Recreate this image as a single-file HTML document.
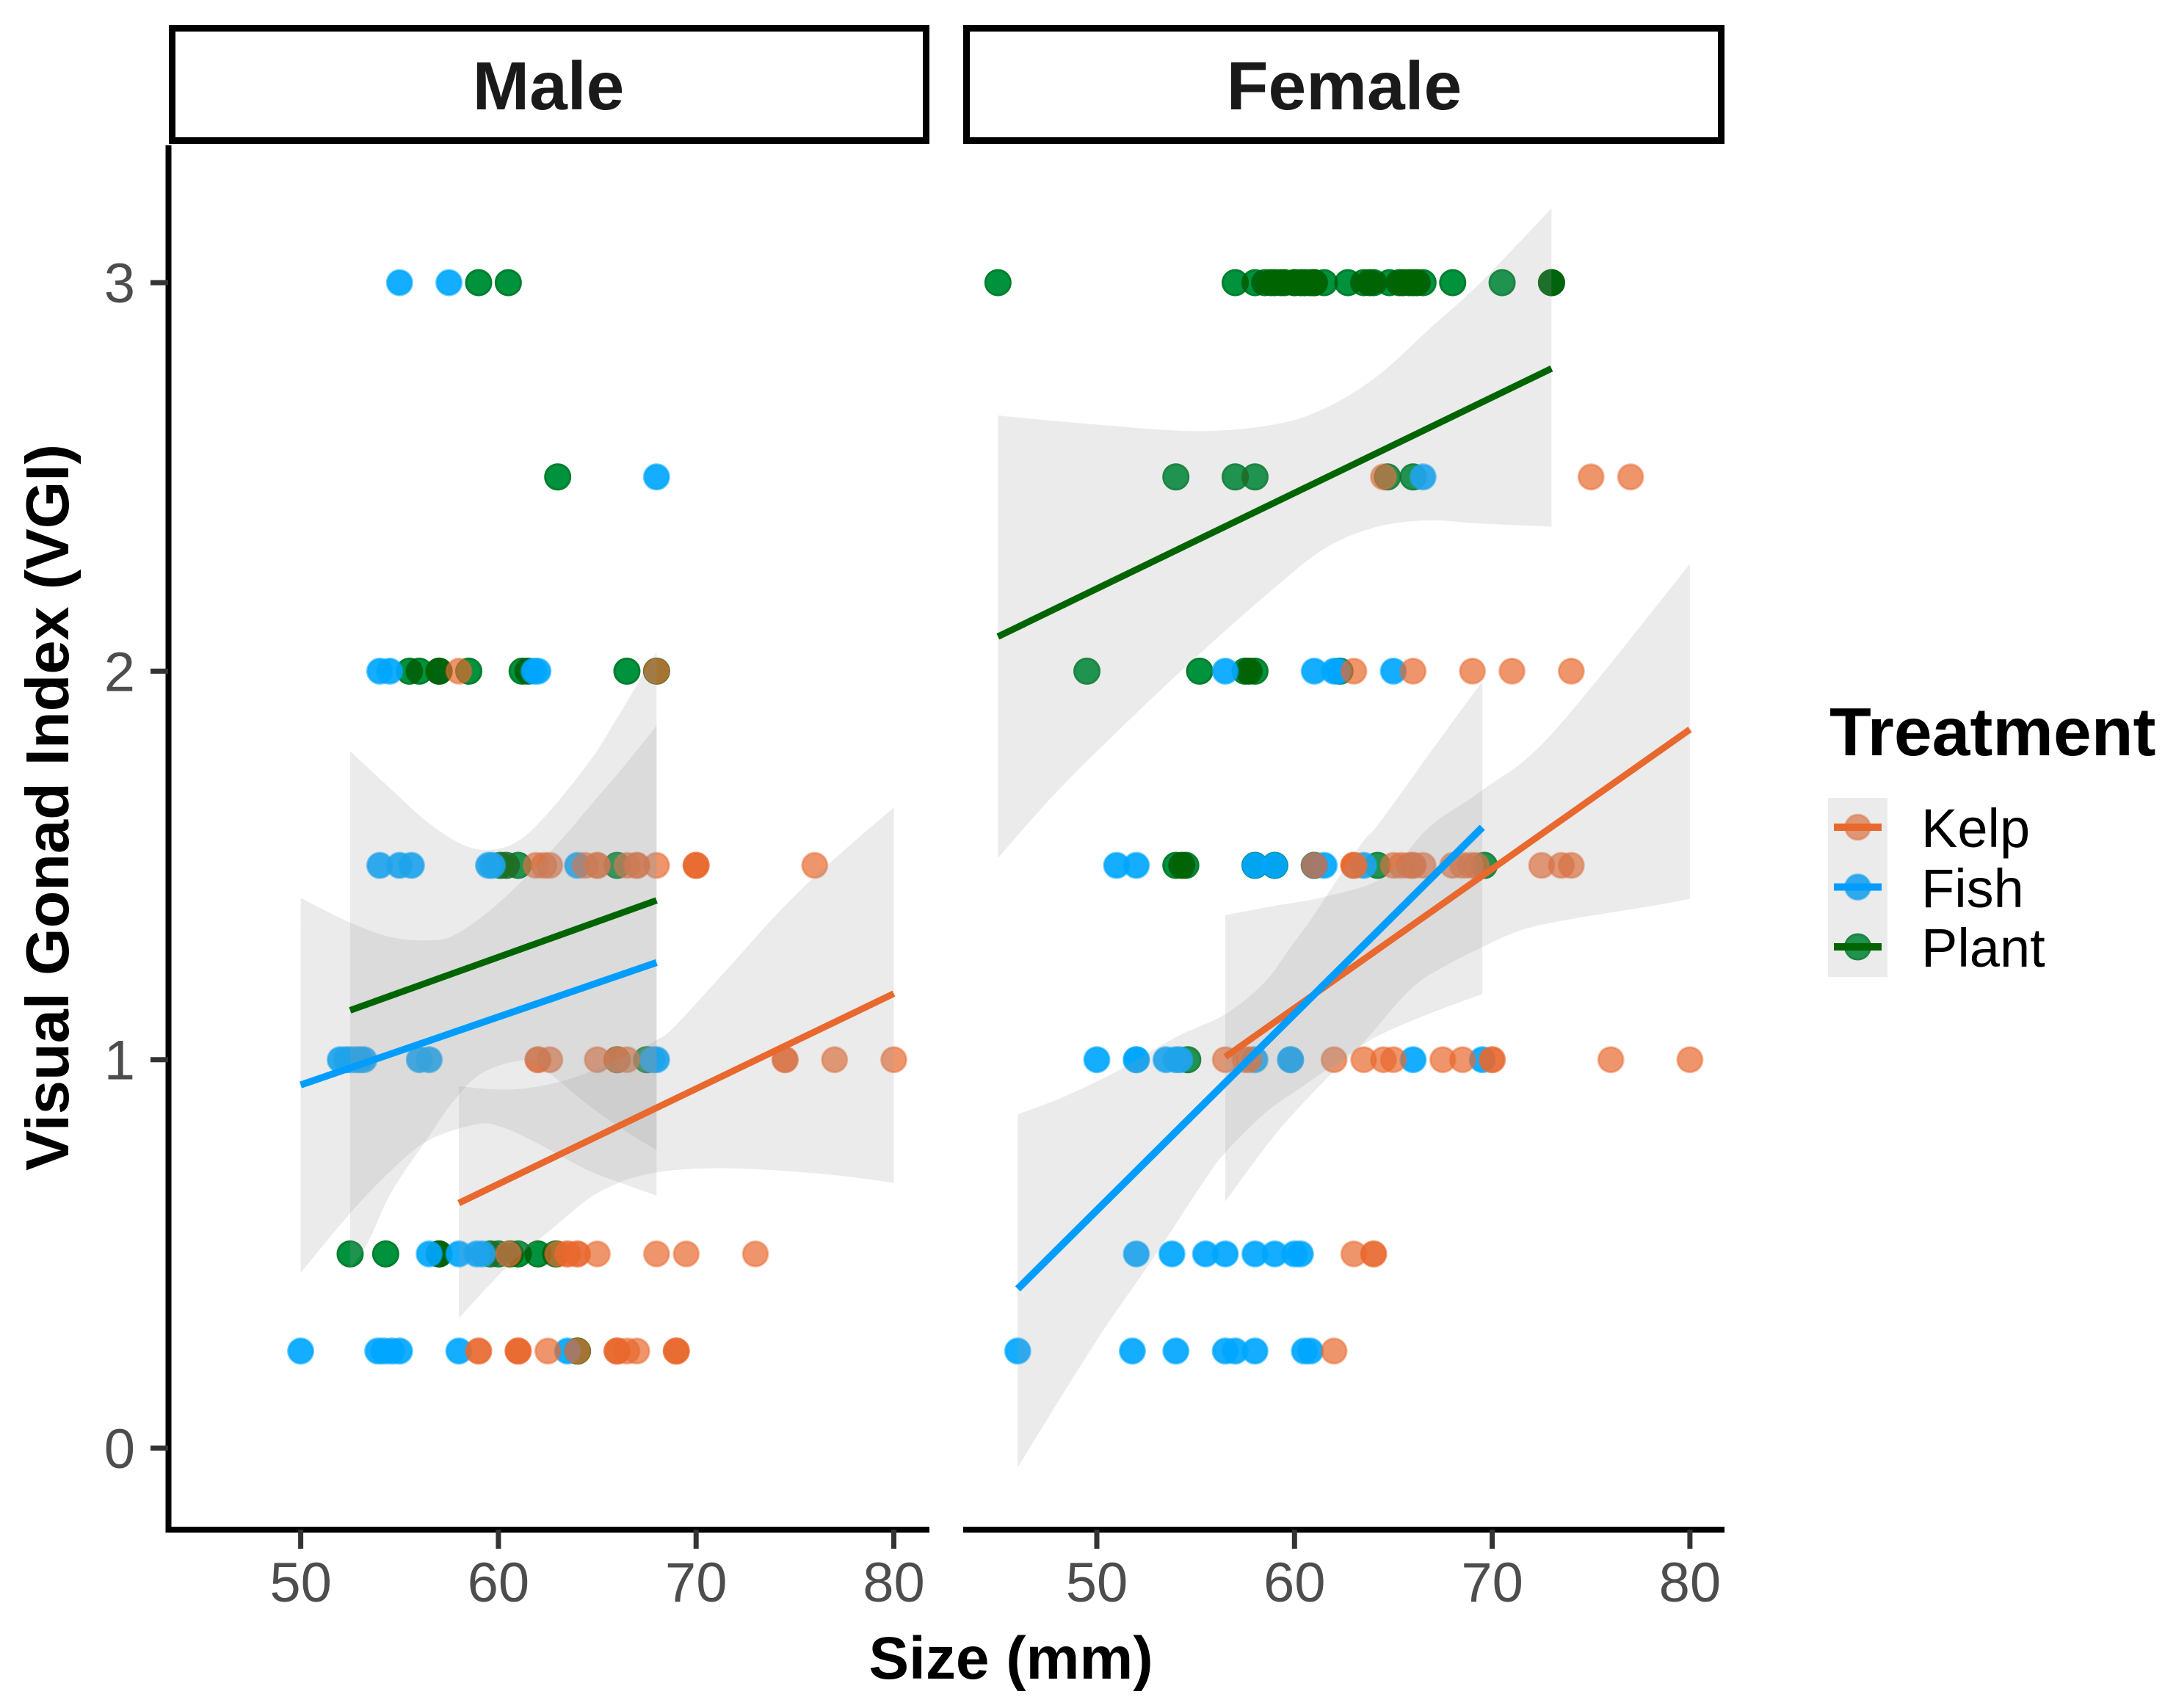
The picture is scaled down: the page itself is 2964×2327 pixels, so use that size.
<!DOCTYPE html>
<html lang="en">
<head>
<meta charset="utf-8">
<title>Visual Gonad Index by Size</title>
<style>
html,body{margin:0;padding:0;background:#fff;}
svg{display:block;font-family:"Liberation Sans",Arial,sans-serif;}
</style>
</head>
<body>
<svg id="chart" xmlns="http://www.w3.org/2000/svg" width="2964" height="2327" viewBox="0 0 2964 2327">
  <rect width="2964" height="2327" fill="#ffffff"/>
  <g id="points-layer"></g>
  <g id="bands-layer"></g>
  <g id="lines-layer"></g>
  <g id="axes-layer"></g>

  <rect x="234.5" y="38.5" width="1027" height="153" fill="#ffffff" stroke="#000000" stroke-width="9"/>
  <text x="747" y="149" text-anchor="middle" font-size="93" font-weight="700" fill="#1a1a1a">Male</text>
  <rect x="1316.5" y="38.5" width="1028" height="153" fill="#ffffff" stroke="#000000" stroke-width="9"/>
  <text x="1831" y="149" text-anchor="middle" font-size="93" font-weight="700" fill="#1a1a1a">Female</text>

  <text x="1377" y="2287" text-anchor="middle" font-size="82" font-weight="700" fill="#000000">Size (mm)</text>
  <text transform="translate(93,1100) rotate(-90)" text-anchor="middle" font-size="83" font-weight="700" fill="#000000">Visual Gonad Index (VGI)</text>

  <g>
    <text x="2492" y="1029" font-size="93" font-weight="700" fill="#000000">Treatment</text>
    <g id="legend-keys"></g>
    <text x="2617" y="1154" font-size="74" fill="#000000">Kelp</text>
    <text x="2617" y="1236" font-size="74" fill="#000000">Fish</text>
    <text x="2617" y="1317" font-size="74" fill="#000000">Plant</text>
  </g>
</svg>

<script>
// ---- axis tick labels ----
const xTickLabels = [50, 60, 70, 80];
const yTickLabels = [0, 1, 2, 3];

// ---- VGI levels; every point array below is listed per level, in this order ----
const vgiLevels = [3, 2.5, 2, 1.5, 1, 0.5, 0.25];

// ---- Male points: size (mm) per VGI level ----
const maleKelpSizes = [
  [], [], [58, 68],
  [61.9, 62.3, 62.6, 64.4, 65, 65, 66.5, 67, 67, 68, 70, 70, 70, 76],
  [62, 62, 62.6, 65, 66, 66, 66.5, 74.5, 74.5, 77, 80],
  [60.5, 63, 63.5, 63.5, 64, 64, 65, 68, 69.5, 73],
  [59, 59, 61, 61, 61, 62.5, 64, 66, 66, 66, 66.5, 67, 69, 69, 69]
];
const maleFishSizes = [
  [55, 57.5], [68], [54, 54.5, 61.8, 62],
  [54, 55, 55.6, 59.5, 59.7, 64],
  [52, 52.3, 52.5, 52.8, 53, 53.2, 56, 56.5, 67.8, 68],
  [56.5, 58, 58.9, 59.2],
  [50, 53.9, 54.2, 54.6, 55, 58, 63.5]
];
const malePlantSizes = [
  [59, 60.5], [63],
  [55.5, 56, 57, 57, 58.5, 61.2, 61.5, 66.5, 68],
  [60.1, 60.4, 61, 66],
  [66, 67.5],
  [52.5, 54.3, 57, 57, 59.6, 60, 60.6, 61, 62, 62.9],
  [64]
];

// ---- Female points: size (mm) per VGI level ----
const femaleKelpSizes = [
  [], [64.5, 75, 77], [63, 66, 69, 71, 74],
  [61, 63, 63, 63, 65, 65.4, 65.8, 66, 66, 66.5, 68, 68.5, 68.9, 69.2, 72.5, 73.5, 74],
  [56.5, 57.5, 57.7, 62, 63.5, 64.5, 65, 67.5, 68.5, 70, 70, 76, 80],
  [63, 64, 64],
  [62]
];
const femaleFishSizes = [
  [], [66.5], [56.5, 61, 62, 62.2, 65],
  [51, 52, 58, 59, 61, 61.5, 63.5],
  [50, 52, 52, 53.5, 54, 54.2, 58, 59.8, 59.8, 66, 69.5],
  [52, 53.8, 55.5, 56.5, 58, 59, 60, 60.3],
  [46, 51.8, 54, 56.5, 57, 58, 60.5, 60.8]
];
const femalePlantSizes = [
  [45, 57, 58, 58.5, 58.8, 59, 59.3, 59.5, 60, 60, 60.3, 60.5, 60.8, 61, 61, 61.5, 62.7, 63.5, 63.8, 64, 64.8, 65.3, 65.5, 65.8, 66, 66.2, 66.5, 68, 70.5, 73, 73],
  [54, 57, 58, 64.7, 66],
  [49.5, 55.2, 57.5, 57.7, 58, 62.3],
  [54, 54.3, 54.5, 58, 59, 61, 64.2, 69.6],
  [54.6], [], []
];

// ---- Fitted lines: [start, end] ----
const maleKelpLineSize = [58, 80];
const maleKelpLineVgi = [0.631, 1.17];
const maleFishLineSize = [50, 68];
const maleFishLineVgi = [0.935, 1.25];
const malePlantLineSize = [52.5, 68];
const malePlantLineVgi = [1.127, 1.41];
const femaleKelpLineSize = [56.5, 80];
const femaleKelpLineVgi = [1.007, 1.85];
const femaleFishLineSize = [46, 69.5];
const femaleFishLineVgi = [0.41, 1.598];
const femalePlantLineSize = [45, 73];
const femalePlantLineVgi = [2.089, 2.779];

// ---- Confidence bands ----
const maleKelpUpperSize = [58, 60.2, 62, 63.9, 66.2, 68, 69, 71.7, 74, 76.4, 80];
const maleKelpUpperVgi = [0.931, 0.923, 0.931, 0.955, 1.005, 1.05, 1.09, 1.24, 1.37, 1.49, 1.649];
const maleKelpLowerSize = [58, 60.5, 62.6, 64.5, 65.7, 67, 69, 72, 76.4, 80];
const maleKelpLowerVgi = [0.335, 0.47, 0.56, 0.64, 0.674, 0.699, 0.716, 0.72, 0.706, 0.683];

const maleFishUpperSize = [50, 52.5, 54.6, 56.45, 57.7, 59.55, 61.4, 63.25, 64.5, 66.35, 68];
const maleFishUpperVgi = [1.416, 1.353, 1.315, 1.307, 1.319, 1.383, 1.47, 1.57, 1.645, 1.755, 1.86];
const maleFishLowerSize = [50, 52.5, 54.6, 56.45, 58.9, 60.2, 62, 64.5, 66.35, 68];
const maleFishLowerVgi = [0.451, 0.6045, 0.716, 0.792, 0.834, 0.826, 0.784, 0.716, 0.68, 0.65];

const malePlantUpperSize = [52.5, 54.6, 56.45, 58.3, 59.8, 61.15, 62.6, 64.5, 65.6, 68];
const malePlantUpperVgi = [1.794, 1.695, 1.61, 1.551, 1.541, 1.568, 1.64, 1.76, 1.845, 2.05];
const malePlantLowerSize = [52.5, 53.4, 54.6, 56.45, 57.6, 59, 60.8, 62, 64.5, 66.4, 68];
const malePlantLowerVgi = [0.461, 0.53, 0.66, 0.8, 0.885, 0.96, 0.995, 0.986, 0.885, 0.817, 0.767];

const femaleKelpUpperSize = [56.5, 59, 61.6, 64.5, 66.8, 69.5, 73, 80];
const femaleKelpUpperVgi = [1.372, 1.396, 1.42, 1.47, 1.598, 1.694, 1.838, 2.276];
const femaleKelpLowerSize = [56.5, 59.1, 61.6, 63.5, 65.9, 67.8, 69.5, 71.5, 74, 78.1, 80];
const femaleKelpLowerVgi = [0.635, 0.812, 0.95, 1.045, 1.183, 1.246, 1.29, 1.334, 1.362, 1.396, 1.414];

const femaleFishUpperSize = [46, 48.4, 51, 54, 56.5, 58.5, 59.8, 60.9, 63.3, 64.3, 67, 69.5];
const femaleFishUpperVgi = [0.859, 0.906, 0.97, 1.058, 1.117, 1.2, 1.29, 1.366, 1.55, 1.61, 1.8, 1.974];
const femaleFishLowerSize = [46, 49.9, 53, 55.4, 56.5, 58.5, 60.4, 62.2, 64.1, 66.6, 69.5];
const femaleFishLowerVgi = [-0.049, 0.27, 0.5, 0.686, 0.761, 0.862, 0.931, 0.994, 1.058, 1.114, 1.169];

const femalePlantUpperSize = [45, 49.9, 55.1, 59, 61.6, 64.2, 66.8, 69.4, 73];
const femalePlantUpperVgi = [2.658, 2.635, 2.618, 2.635, 2.678, 2.76, 2.88, 3.0, 3.191];
const femalePlantLowerSize = [45, 47.8, 50.9, 55.1, 59, 61.6, 64.2, 66.8, 69.4, 73];
const femalePlantLowerVgi = [1.519, 1.68, 1.838, 2.04, 2.215, 2.318, 2.372, 2.388, 2.38, 2.372];

// ---- Axis functions ----
const SVG_NS = 'http://www.w3.org/2000/svg';
function xMale(v) { return 409.6 + (v - 50) * 26.93; }
function xFemale(v) { return 1494 + (v - 50) * 26.93; }
function yScale(v) { return 1973 - v * 529.3; }

const KELP = '#e8682e', FISH = '#009dff', PLANT = '#006400';
const pointLayer = document.getElementById('points-layer');
const bandLayer = document.getElementById('bands-layer');
const lineLayer = document.getElementById('lines-layer');
const axesLayer = document.getElementById('axes-layer');
const keysLayer = document.getElementById('legend-keys');

function make(tag, attrs) {
  const el = document.createElementNS(SVG_NS, tag);
  for (const k in attrs) el.setAttribute(k, attrs[k]);
  return el;
}

function stylePoint(el, kind) {
  if (kind === 'kelp') {
    el.setAttribute('fill', '#e8682e');
    el.setAttribute('fill-opacity', '0.7');
    el.setAttribute('stroke', '#e8682e');
    el.setAttribute('stroke-opacity', '0.45');
  } else if (kind === 'fish') {
    el.setAttribute('fill', '#00a6ff');
    el.setAttribute('fill-opacity', '0.92');
    el.setAttribute('stroke', '#00a6ff');
    el.setAttribute('stroke-opacity', '0.6');
  } else {
    el.setAttribute('fill', '#00923c');
    el.setAttribute('stroke', '#007f2e');
    el.style.mixBlendMode = 'multiply';
  }
  el.setAttribute('stroke-width', '3');
}

function drawPoints(rows, kind, xs) {
  rows.forEach(function (sizes, i) {
    sizes.forEach(function (s) {
      const c = make('circle', { cx: xs(s), cy: yScale(vgiLevels[i]), r: 17 });
      
      
      stylePoint(c, kind);
      pointLayer.appendChild(c);
    });
  });
}

function spline(p) {
  let d = '';
  for (let i = 0; i < p.length - 1; i++) {
    const p0 = p[Math.max(i - 1, 0)], p1 = p[i], p2 = p[i + 1], p3 = p[Math.min(i + 2, p.length - 1)];
    d += ' C' + (p1[0] + (p2[0] - p0[0]) / 6) + ',' + (p1[1] + (p2[1] - p0[1]) / 6) + ' ' +
      (p2[0] - (p3[0] - p1[0]) / 6) + ',' + (p2[1] - (p3[1] - p1[1]) / 6) + ' ' + p2[0] + ',' + p2[1];
  }
  return d;
}

function drawBand(upX, upY, loX, loY, xs) {
  const up = upX.map(function (s, i) { return [xs(s), yScale(upY[i])]; });
  const lo = loX.map(function (s, i) { return [xs(s), yScale(loY[i])]; }).reverse();
  const d = 'M' + up[0][0] + ',' + up[0][1] + spline(up) + ' L' + lo[0][0] + ',' + lo[0][1] + spline(lo) + ' Z';
  const b = make('path', { d: d, fill: '#999999', 'fill-opacity': 0.2 });
  
  
  bandLayer.appendChild(b);
}

function drawLine(sx, sy, color, width, xs) {
  const l = make('line', { x1: xs(sx[0]), y1: yScale(sy[0]), x2: xs(sx[1]), y2: yScale(sy[1]), stroke: color, 'stroke-width': width });
  
  
  lineLayer.appendChild(l);
}

// Points (plant below, fish middle, kelp on top)
drawPoints(malePlantSizes, 'plant', xMale);
drawPoints(femalePlantSizes, 'plant', xFemale);
// Stacked plant points saturate at dark green instead of going black
const plantClamp = make('rect', { x: 0, y: 0, width: 2964, height: 2327, fill: '#006400' });


plantClamp.style.mixBlendMode = 'lighten';
pointLayer.appendChild(plantClamp);
drawPoints(maleFishSizes, 'fish', xMale);
drawPoints(femaleFishSizes, 'fish', xFemale);
drawPoints(maleKelpSizes, 'kelp', xMale);
drawPoints(femaleKelpSizes, 'kelp', xFemale);

// Bands
drawBand(maleKelpUpperSize, maleKelpUpperVgi, maleKelpLowerSize, maleKelpLowerVgi, xMale);
drawBand(maleFishUpperSize, maleFishUpperVgi, maleFishLowerSize, maleFishLowerVgi, xMale);
drawBand(malePlantUpperSize, malePlantUpperVgi, malePlantLowerSize, malePlantLowerVgi, xMale);
drawBand(femaleKelpUpperSize, femaleKelpUpperVgi, femaleKelpLowerSize, femaleKelpLowerVgi, xFemale);
drawBand(femaleFishUpperSize, femaleFishUpperVgi, femaleFishLowerSize, femaleFishLowerVgi, xFemale);
drawBand(femalePlantUpperSize, femalePlantUpperVgi, femalePlantLowerSize, femalePlantLowerVgi, xFemale);

// Lines
drawLine(malePlantLineSize, malePlantLineVgi, PLANT, 9, xMale);
drawLine(maleFishLineSize, maleFishLineVgi, FISH, 9.5, xMale);
drawLine(maleKelpLineSize, maleKelpLineVgi, KELP, 9, xMale);
drawLine(femalePlantLineSize, femalePlantLineVgi, PLANT, 9, xFemale);
drawLine(femaleKelpLineSize, femaleKelpLineVgi, KELP, 9, xFemale);
drawLine(femaleFishLineSize, femaleFishLineVgi, FISH, 10, xFemale);

// Axes
function drawXAxis(x0, x1, xs) {
  const ax = make('line', { x1: x0, y1: 2084, x2: x1, y2: 2084, stroke: '#000000', 'stroke-width': 8 });
  
  
  axesLayer.appendChild(ax);
  xTickLabels.forEach(function (t) {
    const tk = make('line', { x1: xs(t), y1: 2084, x2: xs(t), y2: 2110, stroke: '#333333', 'stroke-width': 7 });
    
    
    axesLayer.appendChild(tk);
    const lb = make('text', { x: xs(t), y: 2182, 'text-anchor': 'middle', 'font-size': 76, fill: '#4d4d4d' });
    
    
    lb.textContent = t;
    axesLayer.appendChild(lb);
  });
}
drawXAxis(228, 1266, xMale);
drawXAxis(1312, 2349, xFemale);

const yAxisLine = make('line', { x1: 229.5, y1: 198, x2: 229.5, y2: 2088, stroke: '#000000', 'stroke-width': 8 });


axesLayer.appendChild(yAxisLine);
yTickLabels.forEach(function (t) {
  const tk = make('line', { x1: 205, y1: yScale(t), x2: 229, y2: yScale(t), stroke: '#333333', 'stroke-width': 7 });
  
  
  axesLayer.appendChild(tk);
  const lb = make('text', { x: 184, y: yScale(t) + 27, 'text-anchor': 'end', 'font-size': 76, fill: '#4d4d4d' });
  
  
  lb.textContent = t;
  axesLayer.appendChild(lb);
});

// Legend keys
const legendKinds = ['kelp', 'fish', 'plant'];
const legendColors = [KELP, FISH, PLANT];
const keyBg = make('rect', { x: 2490, y: 1087, width: 81, height: 244, fill: '#ffffff' });


keysLayer.appendChild(keyBg);
legendKinds.forEach(function (kind, i) {
  const cy = 1127 + i * 81.5;
  const pt = make('circle', { cx: 2530.5, cy: cy, r: 17 });
  
  
  stylePoint(pt, kind);
  keysLayer.appendChild(pt);
});
const keyBand = make('rect', { x: 2490, y: 1087, width: 81, height: 244, fill: '#999999', 'fill-opacity': 0.2 });


keysLayer.appendChild(keyBand);
legendKinds.forEach(function (kind, i) {
  const cy = 1127 + i * 81.5;
  const ln = make('line', { x1: 2498, y1: cy, x2: 2563, y2: cy, stroke: legendColors[i], 'stroke-width': 10 });
  
  
  keysLayer.appendChild(ln);
});
</script>
</body>
</html>
